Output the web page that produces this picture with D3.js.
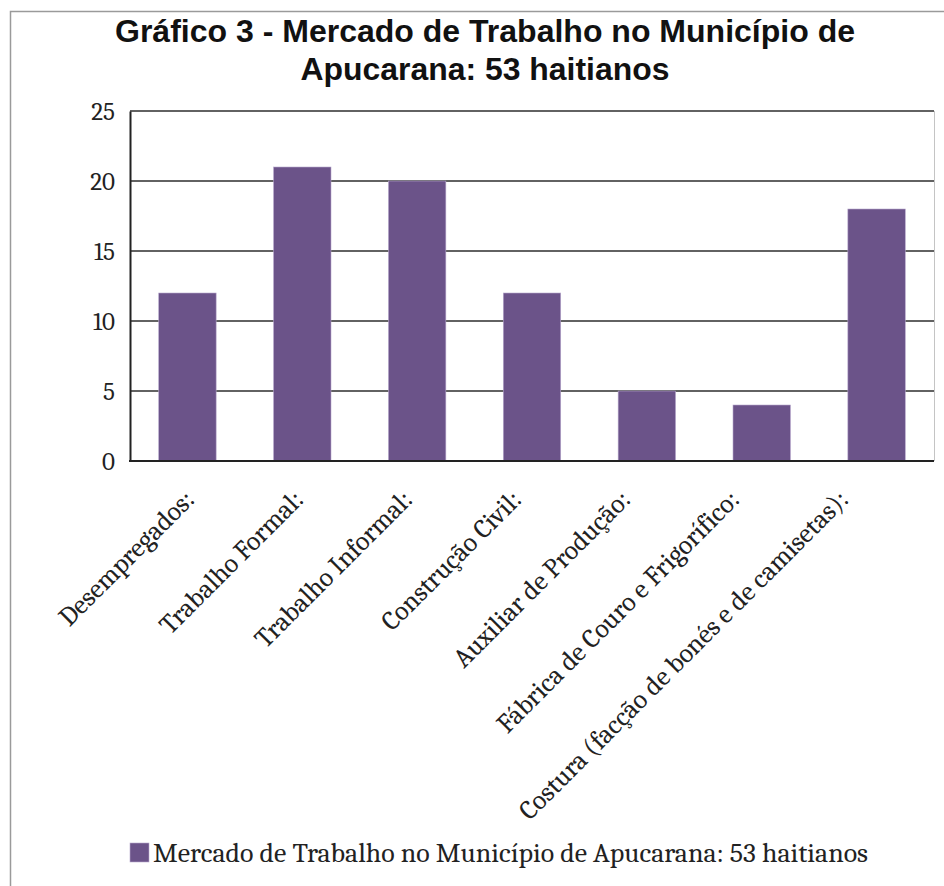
<!DOCTYPE html>
<html>
<head>
<meta charset="utf-8">
<script src="https://cdn.jsdelivr.net/npm/d3@7"></script>
<style>
  body { margin: 0; background: #fff; }
  svg { display: block; }
</style>
</head>
<body>
<div id="chart"></div>
<script>
// chart data
var categories = [
  "Desempregados:",
  "Trabalho Formal:",
  "Trabalho Informal:",
  "Construção Civil:",
  "Auxiliar de Produção:",
  "Fábrica de Couro e Frigorífico:",
  "Costura (facção de bonés e de camisetas):"
];
var values = [12, 21, 20, 12, 5, 4, 18];
var yTicks = [0, 5, 10, 15, 20, 25];
var titleLines = ["Gráfico 3 - Mercado de Trabalho no Município de", "Apucarana: 53 haitianos"];
var seriesName = "Mercado de Trabalho no Município de Apucarana: 53 haitianos";

var width = 944, height = 886;
var margin = {top: 111, right: 10, bottom: 425, left: 130};
var plotRight = 934;
var barColor = "#6b5389";
var serif = "Cambria, Caladea, 'DejaVu Serif', serif";

var svg = d3.select("#chart").append("svg")
  .attr("width", width)
  .attr("height", height);

// outer frame (runs off the right and bottom edges)
svg.append("rect")
  .attr("x", 10.5).attr("y", 11.5)
  .attr("width", 960).attr("height", 900)
  .attr("fill", "none")
  .attr("stroke", "#9a9a9a")
  .attr("stroke-width", 1.5);

// title
svg.append("g").selectAll("text")
  .data(titleLines)
  .enter().append("text")
  .attr("x", 485)
  .attr("y", function (d, i) { return 42 + i * 38; })
  .attr("text-anchor", "middle")
  .attr("font-family", "'Liberation Sans', Arial, sans-serif")
  .attr("font-weight", "bold")
  .attr("font-size", 31)
  .attr("fill", "#111")
  .attr("textLength", function (d, i) { return i === 0 ? 740 : 369; })
  .attr("lengthAdjust", "spacingAndGlyphs")
  .text(function (d) { return d; });

var x = d3.scaleBand()
  .domain(categories)
  .range([margin.left, plotRight])
  .paddingInner(0.5)
  .paddingOuter(0.25);

// label anchors sit on a slightly tighter spacing than the bars
var xLabel = d3.scalePoint()
  .domain(categories)
  .range([196, 850]);

var y = d3.scaleLinear()
  .domain([0, 25])
  .range([461, margin.top]);

// gridlines
svg.append("g")
  .selectAll("line")
  .data(yTicks)
  .enter().append("line")
  .attr("x1", margin.left)
  .attr("x2", plotRight)
  .attr("y1", function (d) { return y(d); })
  .attr("y2", function (d) { return y(d); })
  .attr("stroke", "#2e2e2e")
  .attr("stroke-width", 1.7);

// right edge of plot area
svg.append("line")
  .attr("x1", plotRight + 0.5).attr("x2", plotRight + 0.5)
  .attr("y1", y(25)).attr("y2", y(0))
  .attr("stroke", "#c4c4c4")
  .attr("stroke-width", 1);

// bars
svg.append("g")
  .selectAll("rect")
  .data(values)
  .enter().append("rect")
  .attr("x", function (d, i) { return x(categories[i]); })
  .attr("width", x.bandwidth())
  .attr("y", function (d) { return y(d); })
  .attr("height", function (d) { return y(0) - y(d); })
  .attr("fill", barColor)
  .attr("stroke", "#b7a8cc")
  .attr("stroke-width", 0.6);

// y axis
var yAxis = svg.append("g")
  .attr("transform", "translate(" + margin.left + ",0)")
  .call(d3.axisLeft(y).tickValues(yTicks).tickSize(0).tickPadding(15));
yAxis.select(".domain").attr("stroke", "#222").attr("stroke-width", 2);
yAxis.selectAll("text")
  .attr("font-family", serif)
  .attr("font-size", 25)
  .attr("fill", "#222");

// x axis baseline
svg.append("line")
  .attr("x1", margin.left - 1).attr("x2", plotRight)
  .attr("y1", y(0)).attr("y2", y(0))
  .attr("stroke", "#222")
  .attr("stroke-width", 2);

// x labels, rotated
svg.append("g")
  .selectAll("text")
  .data(categories)
  .enter().append("text")
  .attr("transform", function (d) {
    return "translate(" + xLabel(d) + "," + 501 + ")rotate(-45)";
  })
  .attr("text-anchor", "end")
  .attr("font-family", serif)
  .attr("font-size", 27)
  .attr("fill", "#222")
  .text(function (d) { return d; });

// legend
var legend = svg.append("g");
legend.append("rect")
  .attr("x", 130).attr("y", 843)
  .attr("width", 19).attr("height", 19)
  .attr("fill", barColor)
  .attr("stroke", "#b7a8cc")
  .attr("stroke-width", 0.6);
legend.append("text")
  .attr("x", 153).attr("y", 862)
  .attr("font-family", serif)
  .attr("font-size", 27)
  .attr("fill", "#222")
  .attr("textLength", 715)
  .attr("lengthAdjust", "spacingAndGlyphs")
  .text(seriesName);
</script>
</body>
</html>
